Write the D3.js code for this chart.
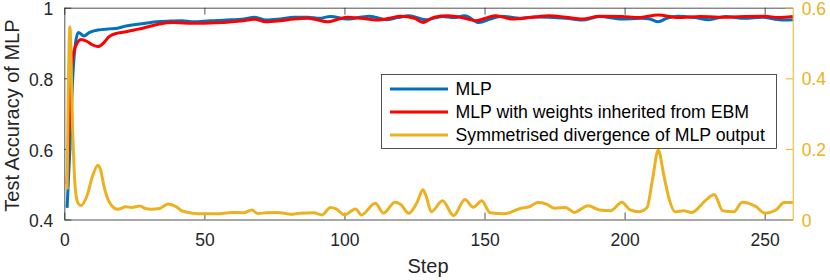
<!DOCTYPE html>
<html>
<head>
<meta charset="utf-8">
<script src="https://cdn.jsdelivr.net/npm/d3@7"></script>
<style>
  html, body { margin: 0; padding: 0; background: #fff; }
  svg { display: block; font-family: "Liberation Sans", Arial, sans-serif; }
</style>
</head>
<body>
<svg id="chart" width="830" height="280"></svg>
<script>
// MLP test accuracy (left axis)
var mlpStep = [1, 2, 3, 4, 5, 7, 9, 12, 16, 19, 22, 25, 29, 33, 38, 42, 46, 52, 58, 64, 68, 72, 77, 82, 87, 91, 95, 101, 105, 109, 115, 119, 123, 129, 135, 139, 143, 148, 152, 156, 163, 168, 173, 179, 185, 191, 199, 206, 209, 212, 215, 219, 225, 230, 236, 243, 249, 256, 260];
var mlpAcc = [0.433, 0.6, 0.8, 0.9, 0.93, 0.92, 0.93, 0.937, 0.94, 0.942, 0.948, 0.952, 0.956, 0.96, 0.962, 0.963, 0.96, 0.963, 0.965, 0.968, 0.973, 0.965, 0.968, 0.973, 0.973, 0.97, 0.975, 0.968, 0.972, 0.976, 0.966, 0.972, 0.977, 0.966, 0.975, 0.972, 0.977, 0.958, 0.968, 0.976, 0.97, 0.974, 0.973, 0.97, 0.965, 0.975, 0.968, 0.97, 0.968, 0.96, 0.97, 0.976, 0.972, 0.966, 0.975, 0.97, 0.973, 0.965, 0.966];

// MLP with weights inherited from EBM (left axis)
var ebmStep = [1, 2, 3, 4, 6, 8, 10, 12, 14, 16, 19, 22, 25, 28, 31, 34, 39, 46, 52, 58, 63, 68, 72, 77, 82, 87, 89, 94, 98, 101, 106, 112, 116, 120, 125, 128, 132, 137, 143, 147, 151, 154, 160, 167, 173, 179, 185, 191, 199, 205, 212, 219, 227, 237, 243, 250, 255, 260];
var ebmAcc = [0.5, 0.75, 0.86, 0.89, 0.91, 0.905, 0.895, 0.89, 0.9, 0.918, 0.928, 0.932, 0.937, 0.942, 0.948, 0.954, 0.958, 0.956, 0.957, 0.959, 0.962, 0.967, 0.96, 0.963, 0.968, 0.97, 0.968, 0.96, 0.968, 0.973, 0.97, 0.965, 0.97, 0.976, 0.97, 0.958, 0.973, 0.977, 0.97, 0.963, 0.972, 0.977, 0.968, 0.973, 0.977, 0.973, 0.968, 0.976, 0.975, 0.972, 0.979, 0.972, 0.975, 0.973, 0.975, 0.976, 0.972, 0.975];

// symmetrised divergence of MLP output (right axis)
var divStep = [1, 2, 3, 4, 5, 6, 8, 10, 12, 13, 14, 15, 16, 19, 22, 24, 27, 29, 31, 34, 37, 40, 42, 46, 50, 54, 60, 64, 67, 69, 72, 76, 81, 84, 89, 92, 95, 97, 100, 104, 106, 111, 114, 118, 120, 123, 126, 128, 129, 131, 135, 139, 143, 146, 149, 152, 157, 163, 166, 169, 172, 175, 179, 182, 187, 191, 195, 199, 202, 205, 208, 210, 212, 214, 216, 218, 221, 224, 229, 232, 235, 239, 242, 247, 250, 254, 257, 260];
var divVal = [0.085, 0.546, 0.25, 0.08, 0.045, 0.04, 0.065, 0.121, 0.154, 0.14, 0.1, 0.07, 0.05, 0.029, 0.036, 0.034, 0.038, 0.031, 0.029, 0.031, 0.044, 0.036, 0.024, 0.018, 0.016, 0.016, 0.02, 0.019, 0.027, 0.017, 0.019, 0.02, 0.015, 0.018, 0.019, 0.013, 0.034, 0.03, 0.013, 0.03, 0.013, 0.046, 0.018, 0.049, 0.043, 0.018, 0.05, 0.084, 0.07, 0.022, 0.053, 0.011, 0.057, 0.035, 0.053, 0.019, 0.016, 0.032, 0.036, 0.048, 0.044, 0.032, 0.034, 0.02, 0.039, 0.027, 0.025, 0.049, 0.027, 0.022, 0.034, 0.115, 0.197, 0.125, 0.055, 0.022, 0.025, 0.02, 0.055, 0.071, 0.025, 0.022, 0.049, 0.036, 0.018, 0.027, 0.048, 0.048];

var xTicks = [0, 50, 100, 150, 200, 250];
var leftTicks = [0.4, 0.6, 0.8, 1];
var rightTicks = [0, 0.2, 0.4, 0.6];
var legendLabels = ["MLP", "MLP with weights inherited from EBM", "Symmetrised divergence of MLP output"];

var cBlue = "#0072BD", cRed = "#FF0000", cYellow = "#EDB120", cAxis = "#262626";

var x0 = 64.3, x1 = 792.7, y0 = 219.5, y1 = 7.7;
var svg = d3.select("#chart");

var xScale = d3.scaleLinear().domain([0, 260]).range([x0, x1]);
var yLeft = d3.scaleLinear().domain([0.4, 1]).range([y0, y1]);
var yRight = d3.scaleLinear().domain([0, 0.6]).range([y0, y1]);

var fmt = function(d) { return String(d); };

// top edge (box)
svg.append("g")
    .attr("transform", `translate(0, ${y1})`)
    .call(d3.axisTop(xScale).tickValues(xTicks).tickSize(-7).tickSizeOuter(0).tickFormat(""))
    .call(g => g.selectAll("path, line").attr("stroke", cAxis).attr("stroke-width", 0.8));

// bottom
var gx = svg.append("g")
    .attr("transform", `translate(0, ${y0})`)
    .call(d3.axisBottom(xScale).tickValues(xTicks).tickSize(-7).tickSizeOuter(0).tickPadding(14).tickFormat(fmt));
gx.selectAll("path, line").attr("stroke", cAxis).attr("stroke-width", 0.8);
gx.selectAll("text").attr("fill", cAxis).style("font-size", "17.5px").style("font-family", "Liberation Sans, Arial, sans-serif");

// left
var gl = svg.append("g")
    .attr("transform", `translate(${x0}, 0)`)
    .call(d3.axisLeft(yLeft).tickValues(leftTicks).tickSize(-7).tickSizeOuter(0).tickPadding(11).tickFormat(fmt));
gl.selectAll("path, line").attr("stroke", cAxis).attr("stroke-width", 0.8);
gl.selectAll("text").attr("fill", cAxis).attr("y", 1.5).style("font-size", "17.5px").style("font-family", "Liberation Sans, Arial, sans-serif");

// right (yyaxis)
var gr = svg.append("g")
    .attr("transform", `translate(${x1}, 0)`)
    .call(d3.axisRight(yRight).tickValues(rightTicks).tickSize(-7).tickSizeOuter(0).tickPadding(9).tickFormat(fmt));
gr.selectAll("path, line").attr("stroke", cYellow).attr("stroke-width", 1);
gr.selectAll("text").attr("fill", cYellow).attr("y", 1).style("font-size", "17.5px").style("font-family", "Liberation Sans, Arial, sans-serif");

// axis labels
svg.append("text")
    .attr("x", (x0 + x1) / 2 - 0.5).attr("y", 273)
    .attr("text-anchor", "middle")
    .attr("fill", cAxis)
    .style("font-size", "20px")
    .text("Step");

svg.append("text")
    .attr("transform", `translate(19, ${(y0 + y1) / 2 + 2}) rotate(-90)`)
    .attr("text-anchor", "middle")
    .attr("fill", cAxis)
    .style("font-size", "20px")
    .text("Test Accuracy of MLP");

// lines
var lineL = d3.line().x(d => xScale(d[0])).y(d => yLeft(d[1])).curve(d3.curveMonotoneX);
var lineR = d3.line().x(d => xScale(d[0])).y(d => yRight(d[1])).curve(d3.curveMonotoneX);

svg.append("path")
    .datum(d3.zip(mlpStep, mlpAcc))
    .attr("d", lineL)
    .attr("fill", "none").attr("stroke", cBlue).attr("stroke-width", 3).attr("stroke-linejoin", "round");

svg.append("path")
    .datum(d3.zip(ebmStep, ebmAcc))
    .attr("d", lineL)
    .attr("fill", "none").attr("stroke", cRed).attr("stroke-width", 3).attr("stroke-linejoin", "round");

svg.append("path")
    .datum(d3.zip(divStep, divVal))
    .attr("d", lineR)
    .attr("fill", "none").attr("stroke", cYellow).attr("stroke-width", 3).attr("stroke-linejoin", "round");

// legend
var legend = svg.append("g").attr("transform", "translate(381.5, 74.5)");
legend.append("rect")
    .attr("width", 395).attr("height", 74)
    .attr("fill", "#fff").attr("stroke", cAxis).attr("stroke-width", 0.8);

var colors = [cBlue, cRed, cYellow];
legendLabels.forEach(function(label, i) {
    var yy = 14.5 + i * 23;
    legend.append("line")
        .attr("x1", 8.5).attr("x2", 66.5).attr("y1", yy).attr("y2", yy)
        .attr("stroke", colors[i]).attr("stroke-width", 3);
    legend.append("text")
        .attr("x", 74).attr("y", yy)
        .attr("dy", "0.35em")
        .attr("fill", "#000")
        .style("font-size", "17.7px")
        .text(label);
});
</script>
</body>
</html>
